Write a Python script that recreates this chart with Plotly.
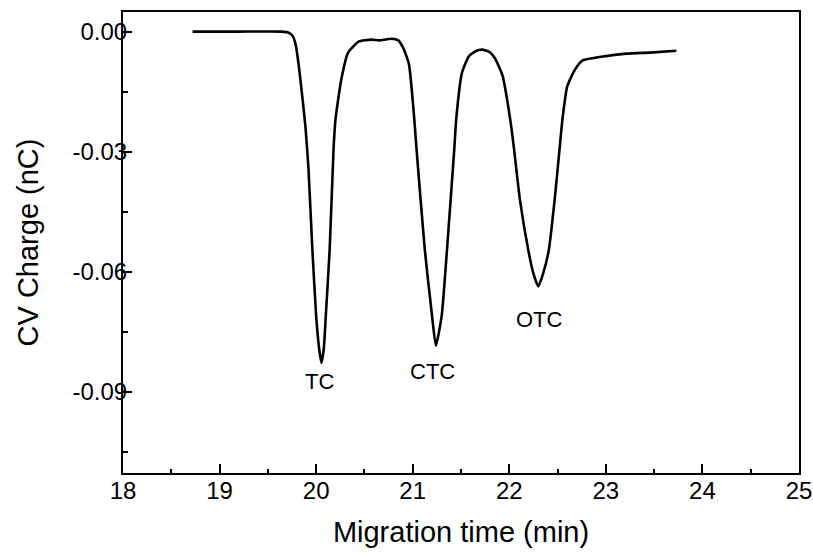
import plotly.graph_objects as go

time_min = [18.72, 19.20, 19.64, 19.72, 19.76, 19.79, 19.82, 19.86, 19.89, 19.92, 19.96,
            20.00, 20.03, 20.055, 20.08, 20.10, 20.14, 20.18, 20.20, 20.26, 20.33, 20.44,
            20.57, 20.65, 20.78, 20.85, 20.90, 20.96, 21.01, 21.04, 21.125, 21.20, 21.24,
            21.30, 21.355, 21.43, 21.45, 21.51, 21.58, 21.65, 21.72, 21.79, 21.85, 21.93,
            22.01, 22.05, 22.11, 22.20, 22.25, 22.30, 22.35, 22.41, 22.47, 22.52, 22.55,
            22.60, 22.68, 22.76, 22.97, 23.21, 23.49, 23.73]
charge_nC = [0.0, 0.0, 0.0, -0.0003, -0.0012, -0.0035, -0.0085, -0.017, -0.024, -0.034, -0.054,
             -0.071, -0.079, -0.0828, -0.079, -0.071, -0.0545, -0.0295, -0.022, -0.012, -0.0053, -0.0025,
             -0.002, -0.0022, -0.0018, -0.0022, -0.004, -0.008, -0.020, -0.0295, -0.0545, -0.071, -0.0785,
             -0.071, -0.0545, -0.0295, -0.022, -0.0103, -0.0062, -0.0049, -0.0045, -0.005, -0.0066, -0.011,
             -0.022, -0.0295, -0.042, -0.0550, -0.0605, -0.0637, -0.0605, -0.0545, -0.042, -0.0295, -0.022,
             -0.0137, -0.0095, -0.0072, -0.0062, -0.0055, -0.0052, -0.0048]

peak_names = ["TC", "CTC", "OTC"]
peak_label_x = [20.03, 21.21, 22.31]
peak_label_y = [-0.0875, -0.085, -0.072]

x_tickvals = [18, 19, 20, 21, 22, 23, 24, 25]
x_ticktext = ["18", "19", "20", "21", "22", "23", "24", "25"]
x_minor = [18.5, 19.5, 20.5, 21.5, 22.5, 23.5, 24.5]
y_tickvals = [0.0, -0.03, -0.06, -0.09]
y_ticktext = ["0.00", "-0.03", "-0.06", "-0.09"]
y_minor = [-0.015, -0.045, -0.075, -0.105]

font_family = "Liberation Sans, Arial, Helvetica, sans-serif"

fig = go.Figure()
fig.add_trace(go.Scatter(x=time_min, y=charge_nC, mode="lines",
                         line=dict(color="black", width=2.6, shape="spline", smoothing=0.5),
                         showlegend=False, hoverinfo="skip"))

for name, lx, ly in zip(peak_names, peak_label_x, peak_label_y):
    fig.add_annotation(x=lx, y=ly, text=name, showarrow=False,
                       font=dict(size=22, color="black", family=font_family),
                       xanchor="center", yanchor="middle")

axis_common = dict(showline=True, linecolor="black", linewidth=2, mirror=True,
                   ticks="inside", tickcolor="black", tickwidth=2, ticklen=9,
                   showgrid=False, zeroline=False, automargin=False,
                   tickfont=dict(size=24, color="black", family=font_family))

fig.update_xaxes(range=[18, 25], tickmode="array", tickvals=x_tickvals, ticktext=x_ticktext,
                 ticklabelstandoff=-5,
                 minor=dict(tickmode="array", tickvals=x_minor, ticks="inside", ticklen=4,
                            tickcolor="black", tickwidth=2, showgrid=False),
                 title=dict(text="Migration time (min)", standoff=19,
                            font=dict(size=29, color="black", family=font_family)),
                 **axis_common)
fig.update_yaxes(range=[-0.1103, 0.0049], tickmode="array", tickvals=y_tickvals, ticktext=y_ticktext,
                 ticklabelstandoff=-11,
                 minor=dict(tickmode="array", tickvals=y_minor, ticks="inside", ticklen=5,
                            tickcolor="black", tickwidth=2, showgrid=False),
                 title=dict(text="CV Charge (nC)", standoff=25,
                            font=dict(size=29, color="black", family=font_family)),
                 **axis_common)

fig.update_layout(width=813, height=556, margin=dict(l=123, r=14, t=12, b=83),
                  plot_bgcolor="white", paper_bgcolor="white")

fig.write_html("out.html", config={"displayModeBar": False},
               post_script="document.body.style.margin='0px';")
